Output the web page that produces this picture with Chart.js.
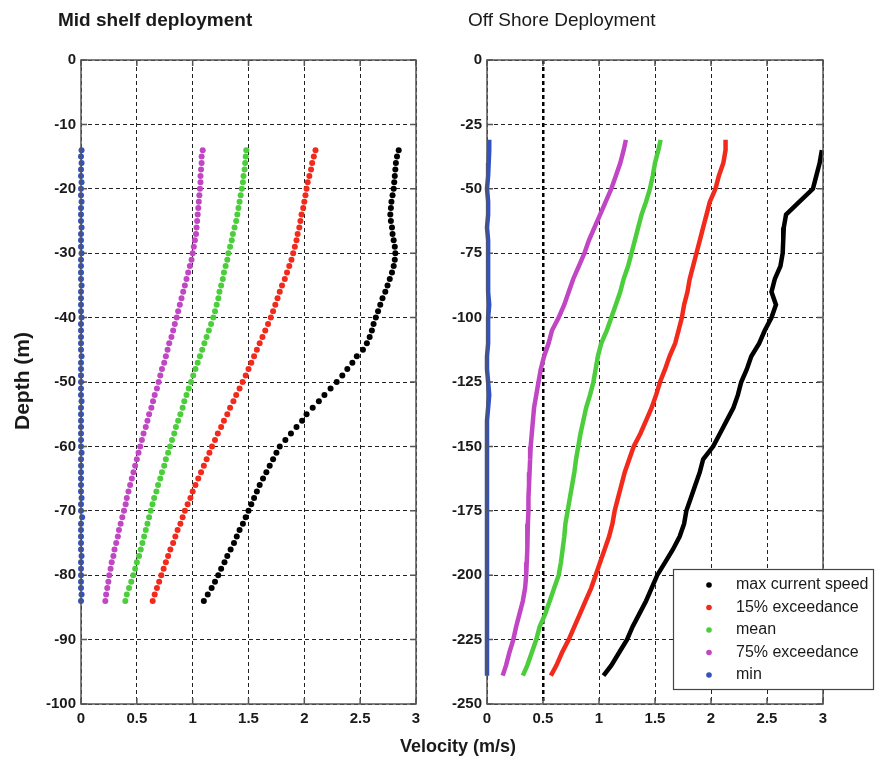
<!DOCTYPE html>
<html>
<head>
<meta charset="utf-8">
<script src="https://cdn.jsdelivr.net/npm/chart.js@4.4.1/dist/chart.umd.min.js"></script>
<style>
  body { margin: 0; background: #fff; font-family: "Liberation Sans", Arial, sans-serif; }
  #wrap { position: relative; width: 875px; height: 759px; overflow: hidden; }
  .box { position: absolute; top: 0; height: 759px; }
  .txt { position: absolute; color: #1a1a1a; white-space: nowrap; }
</style>
</head>
<body>
<div id="wrap">
  <div class="box" style="left:0;width:430px"><canvas id="midChart" width="430" height="759"></canvas></div>
  <div class="box" style="left:430px;width:445px"><canvas id="offChart" width="445" height="759"></canvas></div>
  <div class="txt" style="left:58px;top:9px;font-size:19px;font-weight:bold">Mid shelf deployment</div>
  <div class="txt" style="left:468px;top:9px;font-size:19px">Off Shore Deployment</div>
  <div class="txt" style="left:-38px;top:369px;font-size:21px;font-weight:bold;transform:rotate(-90deg);width:120px;text-align:center">Depth (m)</div>
  <div class="txt" style="left:400px;top:736px;font-size:18px;font-weight:bold">Velocity (m/s)</div>
</div>
<script>
"use strict";

// legend order and colours
const seriesNames = ['max current speed', '15% exceedance', 'mean', '75% exceedance', 'min'];
const seriesColors = ['#000000', '#f22a1c', '#4ccd3c', '#c046c4', '#3352c0'];

// Mid shelf deployment, one reading per metre
const midDepth = [-14,-15,-16,-17,-18,-19,-20,-21,-22,-23,-24,-25,-26,-27,-28,-29,-30,-31,-32,-33,-34,-35,-36,-37,-38,-39,-40,-41,-42,-43,-44,-45,-46,-47,-48,-49,-50,-51,-52,-53,-54,-55,-56,-57,-58,-59,-60,-61,-62,-63,-64,-65,-66,-67,-68,-69,-70,-71,-72,-73,-74,-75,-76,-77,-78,-79,-80,-81,-82,-83,-84];
const midMax = [2.845,2.83,2.82,2.815,2.81,2.805,2.80,2.79,2.78,2.775,2.77,2.775,2.785,2.79,2.80,2.81,2.815,2.81,2.80,2.785,2.765,2.745,2.725,2.70,2.68,2.66,2.64,2.62,2.605,2.585,2.56,2.525,2.47,2.43,2.385,2.34,2.29,2.235,2.18,2.13,2.075,2.02,1.98,1.93,1.88,1.83,1.78,1.75,1.72,1.69,1.66,1.63,1.60,1.575,1.55,1.525,1.50,1.475,1.45,1.42,1.395,1.37,1.34,1.31,1.285,1.255,1.229,1.20,1.17,1.135,1.10];
const midP15 = [2.10,2.085,2.07,2.06,2.045,2.03,2.02,2.01,2.00,1.99,1.975,1.965,1.955,1.94,1.93,1.915,1.90,1.885,1.865,1.845,1.825,1.80,1.78,1.76,1.74,1.72,1.70,1.675,1.65,1.625,1.60,1.575,1.55,1.525,1.50,1.475,1.447,1.42,1.39,1.365,1.335,1.31,1.28,1.255,1.225,1.20,1.173,1.15,1.125,1.10,1.075,1.05,1.025,1.00,0.98,0.955,0.93,0.91,0.89,0.865,0.845,0.825,0.80,0.78,0.76,0.74,0.719,0.70,0.68,0.66,0.642];
const midMean = [1.48,1.475,1.47,1.465,1.455,1.45,1.44,1.43,1.42,1.41,1.40,1.39,1.375,1.36,1.35,1.335,1.32,1.31,1.295,1.28,1.27,1.255,1.24,1.23,1.215,1.20,1.185,1.165,1.145,1.125,1.105,1.085,1.065,1.045,1.025,1.005,0.985,0.965,0.945,0.925,0.91,0.89,0.87,0.85,0.835,0.815,0.797,0.78,0.76,0.745,0.725,0.71,0.69,0.675,0.655,0.64,0.624,0.61,0.595,0.58,0.565,0.55,0.535,0.52,0.50,0.485,0.468,0.45,0.43,0.41,0.397];
const midP75 = [1.09,1.08,1.08,1.075,1.07,1.07,1.065,1.06,1.055,1.05,1.045,1.04,1.035,1.03,1.02,1.01,1.00,0.99,0.975,0.96,0.945,0.93,0.915,0.90,0.885,0.87,0.857,0.84,0.825,0.81,0.79,0.775,0.76,0.745,0.725,0.71,0.695,0.68,0.66,0.645,0.63,0.61,0.595,0.58,0.56,0.545,0.53,0.515,0.50,0.485,0.47,0.455,0.44,0.425,0.41,0.40,0.385,0.37,0.355,0.34,0.33,0.315,0.30,0.29,0.275,0.265,0.253,0.245,0.235,0.225,0.218];
const midMin = [0.005,0,0.005,0,0,0.005,0,0,0.005,0,0,0,0.005,0,0,0,0.005,0,0,0,0,0.005,0,0,0,0,0.005,0,0,0,0,0,0.005,0,0,0,0,0,0,0.005,0,0,0,0,0,0,0,0.005,0,0,0,0,0,0,0.005,0,0,0.01,0,0,0,0,0,0.005,0,0,0,0,0,0.005,0];

// Off Shore deployment, read every 5 m
const offDepth = [-31,-35,-40,-45,-50,-55,-60,-65,-70,-75,-80,-85,-90,-95,-100,-105,-110,-115,-120,-125,-130,-135,-140,-145,-150,-155,-160,-165,-170,-175,-180,-185,-190,-195,-200,-205,-210,-215,-220,-225,-230,-235,-239];
const offMax = [null,2.99,2.97,2.94,2.91,2.79,2.67,2.65,2.645,2.64,2.62,2.57,2.54,2.58,2.54,2.48,2.43,2.36,2.32,2.27,2.24,2.20,2.14,2.08,2.02,1.93,1.90,1.86,1.82,1.78,1.76,1.72,1.66,1.59,1.52,1.47,1.42,1.36,1.30,1.25,1.18,1.11,1.04];
const offP15 = [2.13,2.13,2.11,2.07,2.04,1.99,1.96,1.93,1.90,1.87,1.84,1.81,1.79,1.76,1.74,1.71,1.68,1.63,1.59,1.545,1.51,1.47,1.42,1.37,1.31,1.27,1.23,1.20,1.17,1.14,1.12,1.09,1.05,1.01,0.97,0.93,0.88,0.83,0.78,0.73,0.67,0.62,0.57];
const offMean = [1.55,1.53,1.50,1.48,1.455,1.42,1.38,1.35,1.32,1.29,1.26,1.22,1.19,1.15,1.11,1.07,1.02,0.99,0.97,0.95,0.92,0.885,0.86,0.835,0.815,0.795,0.78,0.76,0.74,0.72,0.70,0.69,0.675,0.66,0.64,0.60,0.56,0.52,0.47,0.44,0.40,0.36,0.32];
const offP75 = [1.24,1.22,1.19,1.15,1.11,1.06,1.01,0.96,0.91,0.87,0.82,0.77,0.73,0.69,0.64,0.58,0.55,0.51,0.48,0.46,0.44,0.42,0.41,0.40,0.39,0.385,0.38,0.375,0.37,0.37,0.365,0.36,0.36,0.355,0.35,0.34,0.32,0.29,0.26,0.235,0.20,0.17,0.14];
const offMin = [0.02,0.02,0.015,0.01,0.0,0.01,0.01,0.0,0.01,0.01,0.01,0.01,0.01,0.02,0.01,0.01,0.01,0.0,0.0,0.01,0.02,0.01,0.0,0.0,0.0,0.0,0.0,0.0,0.0,0.0,0.0,0.0,0.0,0.0,0.0,0.0,0.0,0.0,0.0,0.0,0.0,0.0,0.0];

function toPoints(depths, values) {
  const pts = [];
  depths.forEach(function(d, i) {
    if (values[i] !== null) pts.push({ x: values[i], y: d });
  });
  return pts;
}

// solid frame round the plot plus small inward ticks, matlab style
const framePlugin = {
  id: 'frame',
  afterDatasetsDraw(chart) {
    const ctx = chart.ctx;
    const a = chart.chartArea;
    const xs = chart.scales.x, ys = chart.scales.y;
    ctx.save();
    ctx.setLineDash([]);
    ctx.strokeStyle = '#555';
    ctx.lineWidth = 1.5;
    ctx.strokeRect(a.left, a.top, a.right - a.left, a.bottom - a.top);
    ctx.beginPath();
    ys.ticks.forEach(function(t) {
      const p = ys.getPixelForValue(t.value);
      ctx.moveTo(a.left, p); ctx.lineTo(a.left + 6, p);
      ctx.moveTo(a.right - 6, p); ctx.lineTo(a.right, p);
    });
    xs.ticks.forEach(function(t) {
      const p = xs.getPixelForValue(t.value);
      ctx.moveTo(p, a.bottom); ctx.lineTo(p, a.bottom - 6);
      ctx.moveTo(p, a.top); ctx.lineTo(p, a.top + 6);
    });
    ctx.stroke();
    ctx.restore();
  }
};

// legend box in the lower right of the off shore plot
const legendBox = {
  id: 'legendBox',
  afterDraw(chart) {
    const ctx = chart.ctx;
    ctx.save();
    ctx.setLineDash([]);
    ctx.fillStyle = '#fff';
    ctx.fillRect(243, 569, 200, 120);
    ctx.strokeStyle = '#444';
    ctx.lineWidth = 1.2;
    ctx.strokeRect(243.5, 569.5, 200, 120);
    ctx.font = '16px "Liberation Sans", Arial, sans-serif';
    ctx.textBaseline = 'middle';
    seriesNames.forEach(function(name, i) {
      const y = 585 + i * 22.5;
      ctx.fillStyle = seriesColors[i];
      ctx.beginPath();
      ctx.arc(279, y, 2.8, 0, Math.PI * 2);
      ctx.fill();
      ctx.fillStyle = '#1a1a1a';
      ctx.fillText(name, 306, y);
    });
    ctx.restore();
  }
};

function makeScales(yMin, yStep, yWidth, thickHalf) {
  const tickFont = { family: '"Liberation Sans", Arial, sans-serif', size: 15, weight: 'bold' };
  return {
    x: {
      type: 'linear', min: 0, max: 3,
      ticks: {
        stepSize: 0.5, color: '#1a1a1a', font: tickFont, padding: 6, maxRotation: 0,
        callback: function(v) { return String(Math.round(v * 10) / 10); }
      },
      grid: {
        drawTicks: false,
        color: function(c) { return (thickHalf && c.tick && c.tick.value === 0.5) ? '#000' : '#222'; },
        lineWidth: function(c) { return (thickHalf && c.tick && c.tick.value === 0.5) ? 2.5 : 1; }
      },
      border: { display: false, dash: [4, 3] },
      afterFit: function(s) { s.height = 55; }
    },
    y: {
      type: 'linear', min: yMin, max: 0,
      ticks: { stepSize: yStep, color: '#1a1a1a', font: tickFont, padding: 5 },
      grid: { drawTicks: false, color: '#222', lineWidth: 1 },
      border: { display: false, dash: [4, 3] },
      afterFit: function(s) { s.width = yWidth; }
    }
  };
}

const midSets = [midMax, midP15, midMean, midP75, midMin].map(function(vals, i) {
  return {
    label: seriesNames[i],
    data: toPoints(midDepth, vals),
    showLine: false,
    clip: false,
    pointRadius: 3,
    pointBorderWidth: 0,
    pointBackgroundColor: seriesColors[i],
    pointStyle: 'circle'
  };
});

new Chart(document.getElementById('midChart'), {
  type: 'scatter',
  data: { datasets: midSets },
  options: {
    responsive: false,
    animation: false,
    layout: { padding: { left: 0, right: 14, top: 60, bottom: 0 } },
    plugins: { legend: { display: false }, tooltip: { enabled: false } },
    scales: makeScales(-100, 10, 81, false)
  },
  plugins: [framePlugin]
});

const offSets = [offMax, offP15, offMean, offP75, offMin].map(function(vals, i) {
  return {
    label: seriesNames[i],
    data: toPoints(offDepth, vals),
    showLine: true,
    clip: false,
    borderColor: seriesColors[i],
    borderWidth: 4.5,
    pointRadius: 0,
    tension: 0
  };
});

new Chart(document.getElementById('offChart'), {
  type: 'scatter',
  data: { datasets: offSets },
  options: {
    responsive: false,
    animation: false,
    layout: { padding: { left: 0, right: 52, top: 60, bottom: 0 } },
    plugins: { legend: { display: false }, tooltip: { enabled: false } },
    scales: makeScales(-250, 25, 57, true)
  },
  plugins: [framePlugin, legendBox]
});
</script>
</body>
</html>
